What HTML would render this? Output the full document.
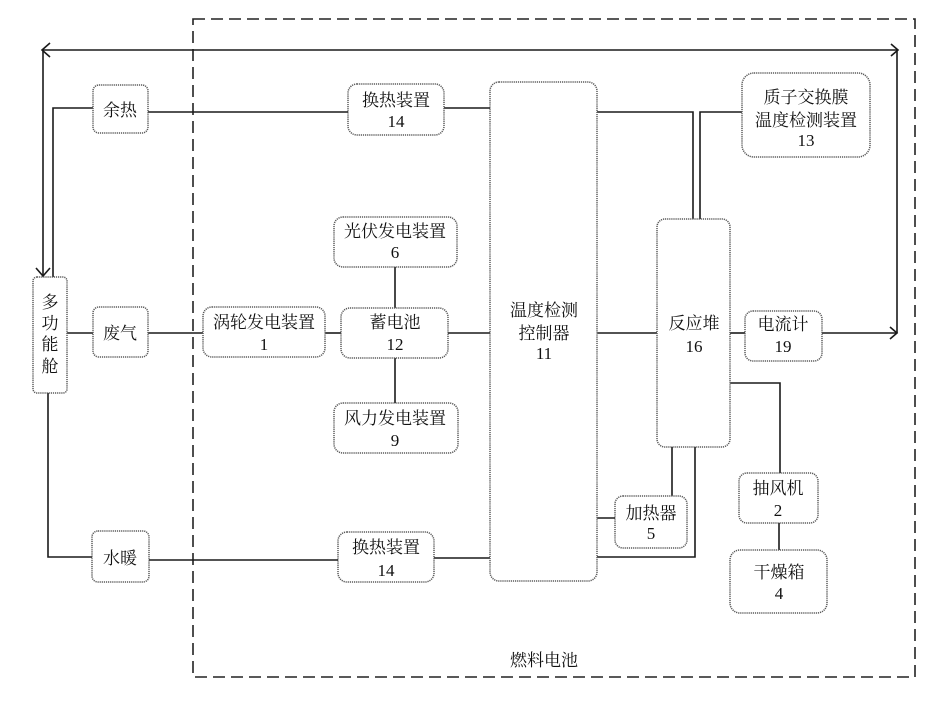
<!DOCTYPE html>
<html><head><meta charset="utf-8"><style>
html,body{margin:0;padding:0;background:#fff;}
svg{display:block;}
text{font-family:"Liberation Serif","Noto Serif CJK SC",serif;font-size:17px;fill:#111;text-anchor:middle;}
.b{fill:#fff;stroke:#5a5a5a;stroke-width:1.5;stroke-dasharray:1.2 0.9;}
.l{stroke:#1a1a1a;stroke-width:1.6;fill:none;}
</style></head><body>
<svg width="930" height="708" viewBox="0 0 930 708" xmlns="http://www.w3.org/2000/svg">
<!-- dashed border -->
<rect x="193" y="19" width="722" height="658" fill="none" stroke="#222" stroke-width="1.6" stroke-dasharray="12 6"/>
<text x="544" y="666">燃料电池</text>

<!-- connectors -->
<g class="l">
<polyline points="42,50 898,50"/>
<polyline points="50,43 42,50 50,57"/>
<polyline points="891,44 898,50 891,56"/>
<line x1="897" y1="50" x2="897" y2="333"/>
<line x1="43" y1="50" x2="43" y2="276"/>
<polyline points="36,268 43,276 50,268"/>
<polyline points="93,108 53,108 53,277"/>
<line x1="148" y1="112" x2="348" y2="112"/>
<line x1="444" y1="108" x2="490" y2="108"/>
<polyline points="597,112 693,112 693,220"/>
<polyline points="742,112 700,112 700,220"/>
<line x1="67" y1="333" x2="93" y2="333"/>
<line x1="148" y1="333" x2="203" y2="333"/>
<line x1="325" y1="333" x2="341" y2="333"/>
<line x1="448" y1="333" x2="490" y2="333"/>
<line x1="597" y1="333" x2="657" y2="333"/>
<line x1="730" y1="333" x2="745" y2="333"/>
<line x1="822" y1="333" x2="897" y2="333"/>
<polyline points="890,327 897,333 890,339"/>
<line x1="395" y1="267" x2="395" y2="308"/>
<line x1="395" y1="358" x2="395" y2="403"/>
<polyline points="730,383 780,383 780,473"/>
<line x1="779" y1="523" x2="779" y2="550"/>
<line x1="672" y1="447" x2="672" y2="497"/>
<polyline points="695,447 695,557 597,557"/>
<line x1="597" y1="518" x2="615" y2="518"/>
<line x1="149" y1="560" x2="338" y2="560"/>
<line x1="434" y1="558" x2="490" y2="558"/>
<polyline points="92,557 48,557 48,393"/>
</g>

<!-- boxes -->
<rect class="b" x="33" y="277" width="34" height="116" rx="4"/>
<text x="50" y="308">多</text><text x="50" y="329">功</text><text x="50" y="350">能</text><text x="50" y="372">舱</text>

<rect class="b" x="93" y="85" width="55" height="48" rx="6"/>
<text x="120" y="116">余热</text>
<rect class="b" x="93" y="307" width="55" height="50" rx="6"/>
<text x="120" y="339">废气</text>
<rect class="b" x="92" y="531" width="57" height="51" rx="6"/>
<text x="120" y="564">水暖</text>

<rect class="b" x="348" y="84" width="96" height="51" rx="9"/>
<text x="396" y="106">换热装置</text><text x="396" y="127">14</text>

<rect class="b" x="334" y="217" width="123" height="50" rx="9"/>
<text x="395" y="237">光伏发电装置</text><text x="395" y="258">6</text>

<rect class="b" x="203" y="307" width="122" height="50" rx="9"/>
<text x="264" y="328">涡轮发电装置</text><text x="264" y="350">1</text>

<rect class="b" x="341" y="308" width="107" height="50" rx="9"/>
<text x="395" y="328">蓄电池</text><text x="395" y="350">12</text>

<rect class="b" x="334" y="403" width="124" height="50" rx="9"/>
<text x="395" y="424">风力发电装置</text><text x="395" y="446">9</text>

<rect class="b" x="338" y="532" width="96" height="50" rx="9"/>
<text x="386" y="553">换热装置</text><text x="386" y="576">14</text>

<rect class="b" x="490" y="82" width="107" height="499" rx="9"/>
<text x="544" y="316">温度检测</text><text x="544" y="339">控制器</text><text x="544" y="359">11</text>

<rect class="b" x="657" y="219" width="73" height="228" rx="8"/>
<text x="694" y="329">反应堆</text><text x="694" y="352">16</text>

<rect class="b" x="742" y="73" width="128" height="84" rx="12"/>
<text x="806" y="103">质子交换膜</text><text x="806" y="126">温度检测装置</text><text x="806" y="146">13</text>

<rect class="b" x="745" y="311" width="77" height="50" rx="8"/>
<text x="783" y="330">电流计</text><text x="783" y="352">19</text>

<rect class="b" x="615" y="496" width="72" height="52" rx="8"/>
<text x="651" y="519">加热器</text><text x="651" y="539">5</text>

<rect class="b" x="739" y="473" width="79" height="50" rx="8"/>
<text x="778" y="494">抽风机</text><text x="778" y="516">2</text>

<rect class="b" x="730" y="550" width="97" height="63" rx="10"/>
<text x="779" y="578">干燥箱</text><text x="779" y="599">4</text>
</svg>
</body></html>
